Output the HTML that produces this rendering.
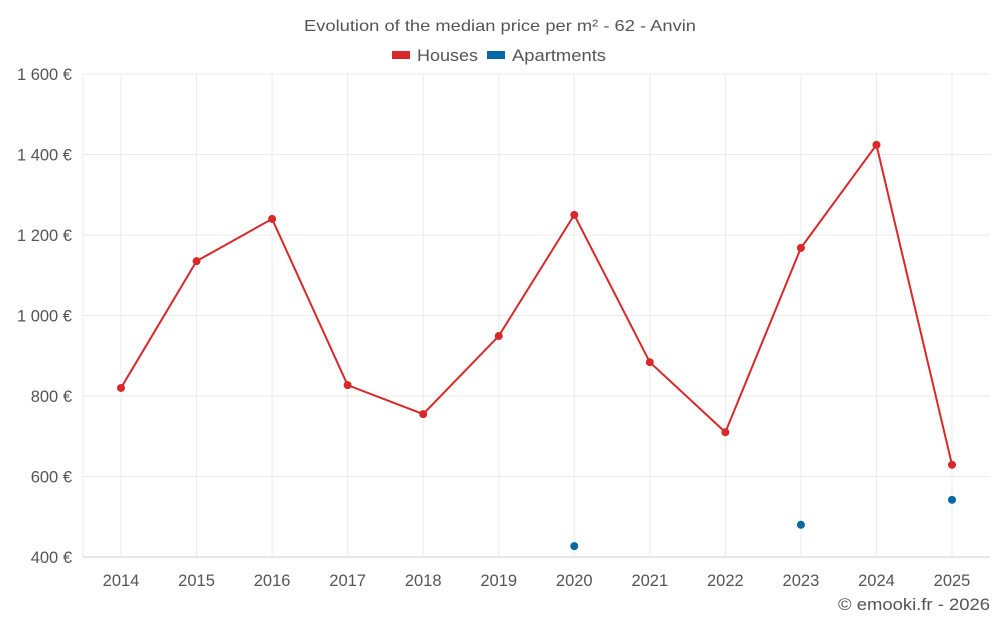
<!DOCTYPE html>
<html><head><meta charset="utf-8">
<style>
body{margin:0;background:#fff;font-family:"Liberation Sans",sans-serif;}
svg text{font-family:"Liberation Sans",sans-serif;}
</style></head>
<body>
<svg width="1000" height="625">
<text x="304" y="31" textLength="392" lengthAdjust="spacingAndGlyphs" font-size="16" fill="#555">Evolution of the median price per m² - 62 - Anvin</text>
<g>
<g><rect x="392" y="51" width="18" height="8" fill="#d9282a"/><text x="417" y="61" textLength="61" lengthAdjust="spacingAndGlyphs" font-size="16.5" fill="#555">Houses</text></g>
<g><rect x="487" y="51" width="18" height="8" fill="#0868a4"/><text x="512" y="61" textLength="94" lengthAdjust="spacingAndGlyphs" font-size="16.5" fill="#555">Apartments</text></g>
</g>
<g id="grid"></g><g id="axes"></g><g id="marks"></g>
<text x="838" y="610" textLength="152" lengthAdjust="spacingAndGlyphs" font-size="16.5" fill="#555">© emooki.fr - 2026</text>
</svg>
<script>
const years=[2014,2015,2016,2017,2018,2019,2020,2021,2022,2023,2024,2025];
const houses=[820,1135,1240,827,755,949,1250,884,710,1168,1424,629];
const apartments=[null,null,null,null,null,null,427,null,null,480,null,542];
const yTicks=[400,600,800,1000,1200,1400,1600];
const yTickLabels=["400 €","600 €","800 €","1 000 €","1 200 €","1 400 €","1 600 €"];
const NS="http://www.w3.org/2000/svg";
const L=83,R=990,T=74,B=557,X0=121,X1=952;
function xs(i){return X0+(X1-X0)*i/(years.length-1);}
function ys(v){return B-(v-400)/1200*(B-T);}
function mk(tag,a,p){const e=document.createElementNS(NS,tag);for(const k in a)e.setAttribute(k,a[k]);p.appendChild(e);return e;}
const g=document.getElementById('grid'),ax=document.getElementById('axes'),m=document.getElementById('marks');
yTicks.forEach((t,i)=>{
 const l=mk('line',{x1:L,x2:R,y1:ys(t),y2:ys(t),stroke:i==0?'#ccc':'#ebebeb'},g);
 
 
 const tx=mk('text',{x:72,y:ys(t)+6,'text-anchor':'end','font-size':16.5,fill:'#555'},ax);
 tx.textContent=yTickLabels[i];
 
 
});
mk('line',{x1:L,x2:L,y1:T,y2:B,stroke:'#ebebeb'},g);
years.forEach((y,i)=>{
 const l=mk('line',{x1:xs(i),x2:xs(i),y1:T,y2:B,stroke:'#ebebeb'},g);
 
 
 const tx=mk('text',{x:xs(i),y:586,'text-anchor':'middle','font-size':16.5,fill:'#555'},ax);
 tx.textContent=y;
 
 
});
const path=mk('polyline',{points:houses.map((v,i)=>xs(i)+','+ys(v)).join(' '),fill:'none',stroke:'#d9282a','stroke-width':2},m);


houses.forEach((v,i)=>{
 const c=mk('circle',{cx:xs(i),cy:ys(v),r:4,fill:'#d9282a'},m);
 
 
});
apartments.forEach((v,i)=>{
 if(v==null)return;
 const c=mk('circle',{cx:xs(i),cy:ys(v),r:4,fill:'#0868a4'},m);
 
 
});
</script>
</body></html>
